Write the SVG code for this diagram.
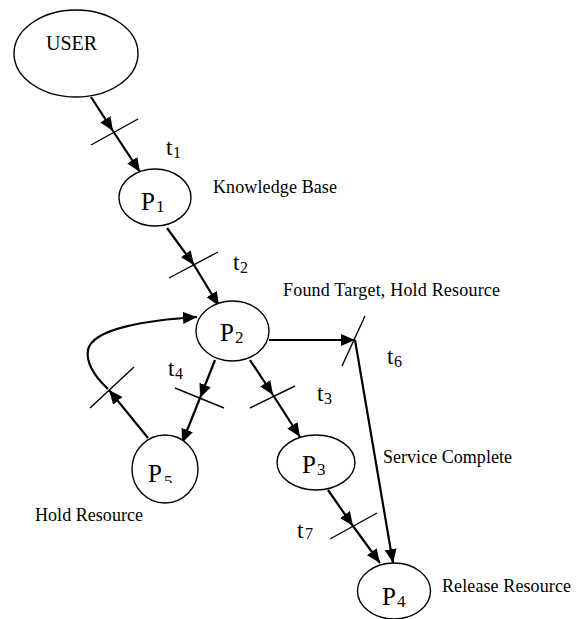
<svg xmlns="http://www.w3.org/2000/svg" width="576" height="619" viewBox="0 0 576 619">
<style>
.node{fill:#fff;stroke:#000;stroke-width:1.4}
.arc{fill:none;stroke:#000;stroke-width:2.2;marker-end:url(#ah)}
.bar{stroke:#000;stroke-width:1.4}
text{font-family:"Liberation Serif","Times New Roman",serif;fill:#000}
.lbl{font-size:18px}
.pn{font-size:25px}
.ps{font-size:17px}
.tn{font-size:23px}
.ts{font-size:16px}
</style>
<defs>
<marker id="ah" markerUnits="userSpaceOnUse" markerWidth="15" markerHeight="12" refX="14" refY="6" orient="auto">
<path d="M0,0 L14,6 L0,12 z" fill="#000"/>
</marker>
<clipPath id="c5"><rect x="140" y="440" width="60" height="43"/></clipPath>
</defs>
<g id="connectors">
<path class="arc" d="M91,97 L113,131"/>
<path class="arc" d="M113,131 L140,172"/>
<path class="arc" d="M167,228 L194,265"/>
<path class="arc" d="M194,265 L219,306"/>
<path class="arc" d="M269,340 L355,340"/>
<path class="arc" d="M355,340 L393,563"/>
<path class="arc" d="M250,360 L273,395"/>
<path class="arc" d="M273,395 L300,437"/>
<path class="arc" d="M328,490 L353,526"/>
<path class="arc" d="M353,526 L380,563"/>
<path class="arc" d="M215,360 L200,398"/>
<path class="arc" d="M200,398 L182,443"/>
<path class="arc" d="M148,438 L109,390"/>
<path class="arc" d="M108,389 C92,374 86,362 88,350 C92,328 150,320 197,317"/>
</g>
<g id="t1"><line class="bar" x1="91" y1="145" x2="138" y2="119"/><text class="tn" x="166" y="155" font-family="Liberation Serif, serif">t</text><text class="ts" x="173" y="158" font-family="Liberation Serif, serif">1</text></g>
<g id="t2"><line class="bar" x1="169" y1="278" x2="218" y2="252"/><text class="tn" x="233" y="270" font-family="Liberation Serif, serif">t</text><text class="ts" x="240" y="273" font-family="Liberation Serif, serif">2</text></g>
<g id="t6"><line class="bar" x1="342" y1="366" x2="365" y2="316"/><text class="tn" x="387" y="364" font-family="Liberation Serif, serif">t</text><text class="ts" x="394" y="367" font-family="Liberation Serif, serif">6</text></g>
<g id="t3"><line class="bar" x1="250" y1="408" x2="295" y2="386"/><text class="tn" x="317" y="401" font-family="Liberation Serif, serif">t</text><text class="ts" x="324" y="404" font-family="Liberation Serif, serif">3</text></g>
<g id="t4"><line class="bar" x1="175" y1="388" x2="224" y2="408"/><text class="tn" x="168" y="376" font-family="Liberation Serif, serif">t</text><text class="ts" x="175" y="379" font-family="Liberation Serif, serif">4</text></g>
<g id="t5"><line class="bar" x1="90" y1="408" x2="134" y2="367"/></g>
<g id="t7"><line class="bar" x1="330" y1="539" x2="377" y2="513"/><text class="tn" x="297" y="538" font-family="Liberation Serif, serif">t</text><text class="ts" x="305" y="539" font-family="Liberation Serif, serif">7</text></g>
<g id="user"><ellipse class="node" cx="76" cy="53.5" rx="62" ry="43.5"/><text x="46" y="50" font-size="20" font-family="Liberation Serif, serif">USER</text></g>
<g id="p1"><ellipse class="node" cx="155" cy="197.5" rx="36" ry="28.5"/><text class="pn" x="141" y="210" font-family="Liberation Serif, serif">P</text><text class="ps" x="156" y="212" font-family="Liberation Serif, serif">1</text></g>
<g id="p2"><ellipse class="node" cx="232.5" cy="331" rx="36.5" ry="30"/><text class="pn" x="220" y="341" font-family="Liberation Serif, serif">P</text><text class="ps" x="235" y="343" font-family="Liberation Serif, serif">2</text></g>
<g id="p3"><ellipse class="node" cx="316" cy="462.5" rx="39" ry="27.5"/><text class="pn" x="302" y="473" font-family="Liberation Serif, serif">P</text><text class="ps" x="317" y="475" font-family="Liberation Serif, serif">3</text></g>
<g id="p4"><ellipse class="node" cx="394" cy="591" rx="36.5" ry="28"/><text class="pn" x="382" y="605" font-family="Liberation Serif, serif">P</text><text class="ps" x="397" y="607" font-family="Liberation Serif, serif">4</text></g>
<g id="p5"><ellipse class="node" cx="165" cy="469" rx="33" ry="34"/><g clip-path="url(#c5)"><text class="pn" x="148" y="482" font-family="Liberation Serif, serif">P</text><text class="ps" x="164" y="487" font-family="Liberation Serif, serif">5</text></g></g>
<g id="labels" font-family="Liberation Serif, serif">
<text class="lbl" x="213" y="193" textLength="124" font-family="Liberation Serif, serif">Knowledge Base</text>
<text class="lbl" x="283" y="296" textLength="217" font-family="Liberation Serif, serif">Found Target, Hold Resource</text>
<text class="lbl" x="383" y="463" textLength="129" font-family="Liberation Serif, serif">Service Complete</text>
<text class="lbl" x="442" y="592" textLength="129" font-family="Liberation Serif, serif">Release Resource</text>
<text class="lbl" x="35" y="521" textLength="108" font-family="Liberation Serif, serif">Hold Resource</text>
</g>
</svg>
